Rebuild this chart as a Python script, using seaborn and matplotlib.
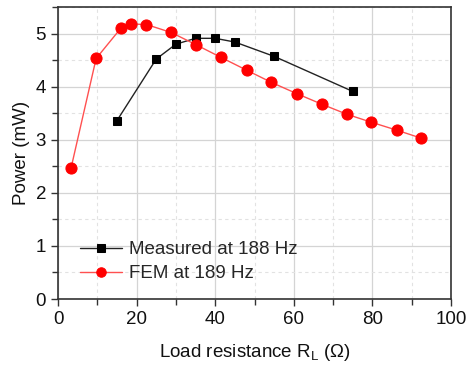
import matplotlib
matplotlib.use("Agg")
import matplotlib.pyplot as plt
import seaborn as sns
import pandas as pd
from matplotlib.ticker import MultipleLocator

meas_r = [15, 25, 30, 35, 40, 45, 55, 75]
meas_p = [3.36, 4.52, 4.80, 4.91, 4.91, 4.84, 4.57, 3.91]
fem_r = [3.3, 9.7, 16.1, 18.6, 22.5, 28.8, 35.1, 41.5, 48.0, 54.3, 60.7, 67.1, 73.5, 79.7, 86.2, 92.4]
fem_p = [2.46, 4.53, 5.11, 5.18, 5.17, 5.02, 4.79, 4.55, 4.31, 4.08, 3.87, 3.67, 3.48, 3.33, 3.18, 3.03]

sns.set_style("white")
plt.rcParams['font.family'] = ['Liberation Sans', 'DejaVu Sans']
plt.rcParams['mathtext.fontset'] = 'custom'
plt.rcParams['mathtext.rm'] = 'Liberation Sans'

fig = plt.figure(figsize=(4.66, 3.65), dpi=100)
ax = fig.add_axes([58/466, 66/365, 393/466, 292/365])

df_m = pd.DataFrame({"r": meas_r, "p": meas_p})
df_f = pd.DataFrame({"r": fem_r, "p": fem_p})
sns.lineplot(data=df_m, x="r", y="p", ax=ax, color="#222222", lw=1.0, marker="s",
             markersize=6, markerfacecolor="black", markeredgecolor="black",
             label="Measured at 188 Hz", zorder=3)
sns.lineplot(data=df_f, x="r", y="p", ax=ax, color="#ff5050", lw=1.0, marker="o",
             markersize=8, markerfacecolor="red", markeredgecolor="red",
             label="FEM at 189 Hz", zorder=3)

ax.set_xlim(0, 100)
ax.set_ylim(0, 5.5)
ax.xaxis.set_major_locator(MultipleLocator(20))
ax.xaxis.set_minor_locator(MultipleLocator(10))
ax.yaxis.set_major_locator(MultipleLocator(1))
ax.yaxis.set_minor_locator(MultipleLocator(0.5))
ax.grid(which="major", color="#d4d4d4", lw=0.9, ls="-")
ax.grid(which="minor", color="#e2e2e2", lw=0.8, ls=(0, (3, 3)))
ax.set_axisbelow(True)
ax.tick_params(which="both", direction="out", left=True, bottom=True, top=False, right=False,
               color="#333333", labelsize=13.5, labelcolor="#111111")
ax.tick_params(which="major", length=5, width=1)
ax.tick_params(which="minor", length=4, width=1)
for s in ax.spines.values():
    s.set_color("#333333")
    s.set_linewidth(1.2)

ax.set_xlabel(r"Load resistance R$_\mathregular{L}$ ($\Omega$)", fontsize=13.5, labelpad=10, color="#111111")
ax.set_ylabel("Power (mW)", fontsize=13.5, labelpad=4, color="#111111")

leg = ax.legend(loc="lower left", bbox_to_anchor=(0.013, 0.0), frameon=False, fontsize=13.5,
                handlelength=2.25, handletextpad=0.35, labelspacing=0.35, borderaxespad=0.5,
                markerscale=0.85)

fig.savefig("out.png", dpi=100)
